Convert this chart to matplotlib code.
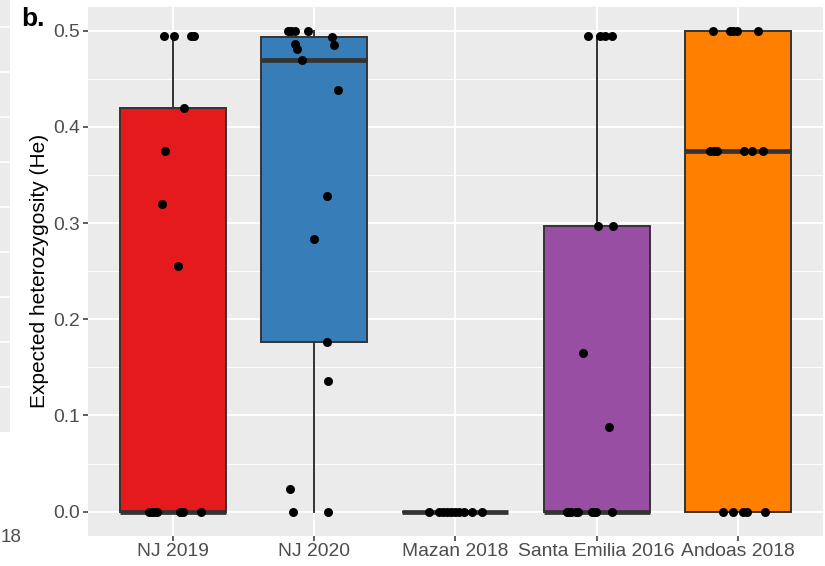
import matplotlib
matplotlib.use("Agg")
import matplotlib.pyplot as plt
import numpy as np

plt.rcParams['font.family'] = ['Liberation Sans', 'DejaVu Sans']

# Expected heterozygosity per locus, grouped by population
populations = ['NJ 2019', 'NJ 2020', 'Mazan 2018', 'Santa Emilia 2016', 'Andoas 2018']
box_colors = ['#E41A1C', '#377EB8', '#4DAF4A', '#984EA3', '#FF7F00']

he_nj2019 = [0.495, 0.495, 0.495, 0.495, 0.42, 0.375, 0.32, 0.255,
             0, 0, 0, 0, 0, 0, 0, 0, 0]
he_nj2020 = [0.5, 0.5, 0.5, 0.5, 0.494, 0.486, 0.485, 0.481, 0.47, 0.438,
             0.328, 0.283, 0.176, 0.136, 0.024, 0, 0]
he_mazan2018 = [0, 0, 0, 0, 0, 0, 0, 0, 0, 0]
he_santaemilia2016 = [0.495, 0.495, 0.495, 0.495, 0.2975, 0.2975, 0.165, 0.0877,
                      0, 0, 0, 0, 0, 0, 0, 0, 0]
he_andoas2018 = [0.5, 0.5, 0.5, 0.5, 0.5, 0.375, 0.375, 0.375, 0.375, 0.375, 0.375,
                 0, 0, 0, 0, 0]

# horizontal jitter of each point (category units), same order as the values
jit_nj2019 = [-0.064, 0.007, 0.128, 0.149, 0.078, -0.057, -0.078, 0.035,
              -0.170, -0.149, -0.128, -0.113, 0.050, 0.057, 0.064, 0.071, 0.199]
jit_nj2020 = [-0.184, -0.163, -0.135, -0.043, 0.128, -0.135, 0.142, -0.121, -0.085, 0.170,
              0.092, 0.0, 0.092, 0.099, -0.170, -0.149, 0.099]
jit_mazan2018 = [-0.184, -0.113, -0.085, -0.057, -0.028, 0.0, 0.028, 0.064, 0.121, 0.191]
jit_santaemilia2016 = [-0.064, 0.021, 0.057, 0.106, 0.007, 0.113, -0.099, 0.085,
                       -0.213, -0.199, -0.184, -0.149, -0.135, -0.035, -0.021, -0.007, 0.106]
jit_andoas2018 = [-0.177, -0.057, -0.035, -0.007, 0.142,
                  -0.199, -0.170, -0.149, 0.043, 0.099, 0.177,
                  -0.106, -0.035, 0.035, 0.064, 0.191]

he_values = [he_nj2019, he_nj2020, he_mazan2018, he_santaemilia2016, he_andoas2018]
jitters = [jit_nj2019, jit_nj2020, jit_mazan2018, jit_santaemilia2016, jit_andoas2018]

W, H = 825, 566
fig = plt.figure(figsize=(W / 100, H / 100), dpi=100)

# sliver of the neighbouring panel on the left
side = fig.add_axes([0, (H - 432) / H, 10 / W, 432 / H])
side.set_facecolor('#EBEBEB')
side.set_xlim(0, 1)
side.set_ylim(0, 9.6)
side.set_xticks([])
side.set_yticks(np.arange(1, 10))
side.tick_params(length=0, labelleft=False)
side.grid(axis='y', color='white', linewidth=1.2)
for s in side.spines.values():
    s.set_visible(False)
fig.text(21 / W, 1 - 537 / H, '18', ha='right', va='center', fontsize=13.5, color='#4D4D4D')

ax = fig.add_axes([88 / W, (H - 535.7) / H, (822.7 - 88) / W, (535.7 - 6.7) / H])
ax.set_facecolor('#EBEBEB')
for s in ax.spines.values():
    s.set_visible(False)

positions = np.arange(1, len(populations) + 1)
bp = ax.boxplot(he_values, positions=positions, widths=0.75, patch_artist=True,
                showcaps=False, showfliers=False, whis=1.5,
                boxprops=dict(edgecolor='#333333', linewidth=1.4),
                whiskerprops=dict(color='#333333', linewidth=1.4),
                medianprops=dict(color='#333333', linewidth=3.4, solid_capstyle='butt'),
                zorder=3)
for patch, c in zip(bp['boxes'], box_colors):
    patch.set_facecolor(c)

for pos, vals, jit in zip(positions, he_values, jitters):
    ax.scatter(pos + np.array(jit), vals, s=42, color='black', linewidths=0, zorder=5)

ax.set_xlim(0.4, 5.6)
ax.set_ylim(-0.025, 0.525)
ax.set_xticks(positions)
ax.set_xticklabels(populations)
ax.set_yticks(np.arange(0, 0.51, 0.1))
ax.set_yticklabels(['0.0', '0.1', '0.2', '0.3', '0.4', '0.5'])
ax.set_yticks(np.arange(0.05, 0.5, 0.1), minor=True)
ax.grid(which='major', color='white', linewidth=1.4, zorder=0)
ax.grid(which='minor', axis='y', color='white', linewidth=0.7, zorder=0)
ax.set_axisbelow(True)
ax.tick_params(which='major', length=3.5, width=1.1, color='#333333',
               labelcolor='#4D4D4D', labelsize=13.9, pad=2)
ax.tick_params(which='minor', length=0)

ax.set_ylabel('Expected heterozygosity (He)', fontsize=15, color='black', labelpad=3)
fig.text(21 / W, 1 - 19 / H, 'b.', ha='left', va='center', fontsize=19, fontweight='bold')

fig.savefig('out.png', dpi=100)
